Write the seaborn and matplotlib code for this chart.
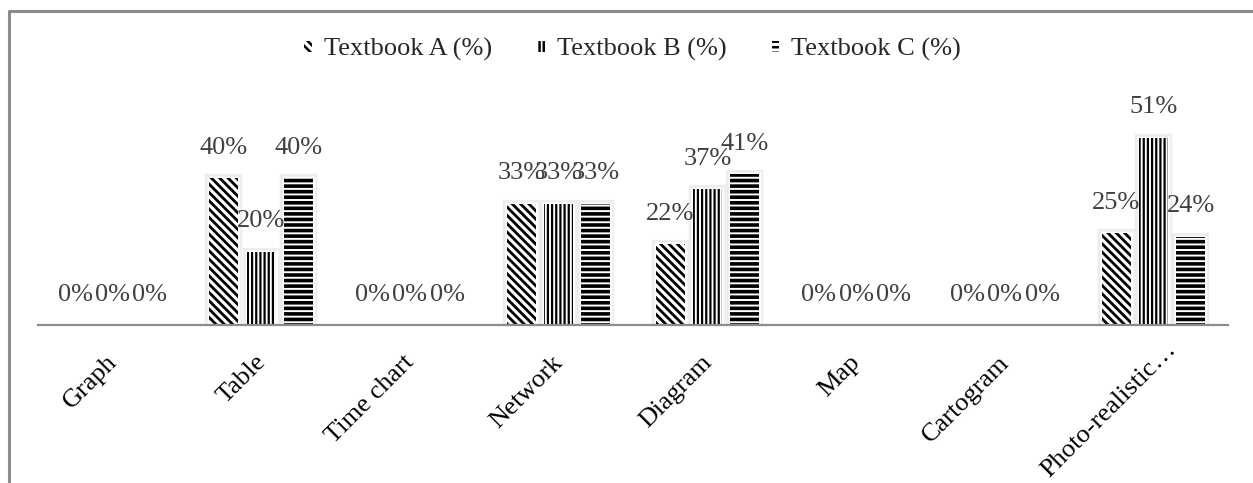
import matplotlib
matplotlib.use("Agg")
import matplotlib.pyplot as plt
import matplotlib.patheffects as pe
from matplotlib.lines import Line2D
from matplotlib.patches import Patch
from matplotlib.transforms import offset_copy
import seaborn as sns
import pandas as pd

categories = ["Graph", "Table", "Time chart", "Network", "Diagram", "Map",
              "Cartogram", "Photo-realistic\u2026"]
textbook_a = [0, 40, 0, 33, 22, 0, 0, 25]
textbook_b = [0, 20, 0, 33, 37, 0, 0, 51]
textbook_c = [0, 40, 0, 33, 41, 0, 0, 24]
series_names = ["Textbook A (%)", "Textbook B (%)", "Textbook C (%)"]
hatches = ["\\\\\\\\", "||||", "---"]
hatch_widths = [2.0, 1.6, 2.6]

df = pd.DataFrame({"Category": categories * 3,
                   "Series": [series_names[0]] * 8 + [series_names[1]] * 8 + [series_names[2]] * 8,
                   "Value": textbook_a + textbook_b + textbook_c})

sns.set_theme(style="white")
plt.rcParams["font.family"] = ["Liberation Serif", "DejaVu Serif"]
plt.rcParams["hatch.linewidth"] = 1.8
plt.rcParams["hatch.color"] = "black"

fig = plt.figure(figsize=(12.53, 4.83), dpi=100)
ax = fig.add_axes([0.0303, 0.327, 0.9497, 0.4566])

sns.barplot(data=df, x="Category", y="Value", hue="Series", order=categories,
            hue_order=series_names, palette=["white"] * 3, width=0.75,
            saturation=1, legend=False, ax=ax, errorbar=None)

halo = [pe.Stroke(linewidth=6, foreground="#ededed"),
        pe.Stroke(linewidth=2.5, foreground="white"),
        pe.Normal()]

for container, hatch, hw in zip(ax.containers, hatches, hatch_widths):
    for bar in container:
        # narrow each bar around its slot centre, leaving a gap between neighbours
        cx = bar.get_x() + bar.get_width() / 2
        w = bar.get_width() * 0.78
        bar.set_x(cx - w / 2)
        bar.set_width(w)
        bar.set_hatch(hatch)
        if hasattr(bar, "set_hatch_linewidth"):
            bar.set_hatch_linewidth(hw)
        bar.set_edgecolor("black")
        bar.set_linewidth(0)
        if bar.get_height() > 0:
            bar.set_path_effects(halo)
    ax.bar_label(container, labels=[f"{v:.0f}%" for v in container.datavalues],
                 padding=14, fontsize=19, color="#404040")

ax.set_ylim(0, 60)
ax.set_xlim(-0.5, len(categories) - 0.5)
ax.set_xlabel("")
ax.set_ylabel("")
ax.set_yticks([])
for side in ["top", "right", "left"]:
    ax.spines[side].set_visible(False)
ax.spines["bottom"].set_color("#8c8c8c")
ax.spines["bottom"].set_linewidth(1.6)
ax.tick_params(axis="x", length=0, pad=0)

ax.set_xticks(range(len(categories)))
ax.set_xticklabels([])
for i, name in enumerate(categories):
    # long labels are lifted so they stay inside the chart area
    if len(name) > 12:
        dx, dy = 19, -21
    else:
        dx, dy = 1, -34
    tr = offset_copy(ax.get_xaxis_transform(), fig=fig, x=dx, y=dy, units="dots")
    ax.text(i, 0, name, transform=tr, rotation=45, ha="right", va="center",
            rotation_mode="anchor", fontsize=19, color="black")

handles = [Patch(facecolor="white", edgecolor="black", linewidth=0, hatch=h)
           for h in hatches]
fig.legend(handles, series_names, loc="center", bbox_to_anchor=(0.505, 0.897),
           ncol=3, frameon=False, fontsize=19, handlelength=0.3, handleheight=0.3,
           handletextpad=0.45, columnspacing=1.7)

# outer chart border (top and left edges)
fig.add_artist(Line2D([9 / 1253, 1.0], [1 - 11 / 483, 1 - 11 / 483],
                      transform=fig.transFigure, color="#8c8c8c", linewidth=2.2))
fig.add_artist(Line2D([9 / 1253, 9 / 1253], [0.0, 1 - 11 / 483],
                      transform=fig.transFigure, color="#8c8c8c", linewidth=2.2))

fig.savefig("out.png", dpi=100, facecolor="white")
